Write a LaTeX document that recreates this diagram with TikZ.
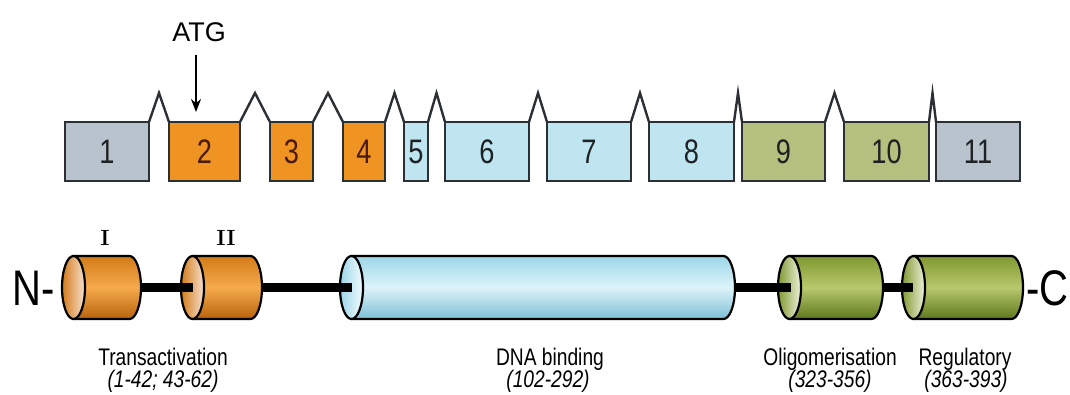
\documentclass[tikz,border=0pt]{standalone}
\usepackage{fontspec}
\usetikzlibrary{arrows.meta,calc}
\newfontfamily\sfc{Liberation Sans}[FakeStretch=0.8]
\newfontfamily\sfn{Liberation Sans}
\definecolor{exline}{HTML}{2A3034}
\definecolor{cgrey}{HTML}{B8C3CE}
\definecolor{corange}{HTML}{EF9322}
\definecolor{cblue}{HTML}{BFE5F1}
\definecolor{cgreen}{HTML}{B5BF7E}
\definecolor{numdark}{HTML}{1E2224}
\definecolor{numbrown}{HTML}{4A1A05}
\definecolor{oTop}{HTML}{D27A18}
\definecolor{oMid}{HTML}{F6AB4C}
\definecolor{oBot}{HTML}{B8620C}
\definecolor{oFace}{HTML}{F8E2D2}
\definecolor{bTop}{HTML}{9CD6E8}
\definecolor{bMid}{HTML}{DDF3FA}
\definecolor{bBot}{HTML}{7CBFD5}
\definecolor{bFace}{HTML}{F2FAFD}
\definecolor{gTop}{HTML}{7F9830}
\definecolor{gMid}{HTML}{B8C86C}
\definecolor{gBot}{HTML}{5E781E}
\definecolor{gFace}{HTML}{EEF2DC}
\newcommand\drawcyl[4]{%
  \path[#3, draw=black, line width=2.2pt, line join=round]
    (#1+11.5,138) -- (#2-11.5,138)
    arc[start angle=90, end angle=-90, x radius=11.5, y radius=31.5]
    -- (#1+11.5,75) -- cycle;
  \path[#4, draw=black, line width=2.2pt]
    (#1+11.5,106.5) ellipse[x radius=11.5, y radius=31.5];
}
\begin{document}
\begin{tikzpicture}[x=1pt,y=1pt,
  exon/.style={draw=exline, line width=2.4pt, minimum height=59pt, inner sep=0pt,
    outer sep=0pt, font=\sfc\fontsize{34}{38}\selectfont, text=numdark},
  intron/.style={draw=exline, line width=2.4pt, line join=miter},
  cylnode/.style={draw=none, inner sep=0pt, outer sep=0pt, minimum height=63pt},
  linker/.style={line width=9.5pt, black},
  lab/.style={font=\sfc\fontsize{24}{28}\selectfont, inner sep=0pt, anchor=base},
  term/.style={font=\sfc\fontsize{50}{56}\selectfont, inner sep=0pt, anchor=base west},
  roman/.style={font=\rmfamily\bfseries\fontsize{22}{24}\selectfont, inner sep=0pt},
  atgarrow/.style={line width=2pt, -{Stealth[length=13pt, width=10pt]}}
]
\useasboundingbox (0,0) rectangle (1070,394);

% exons
\node[exon, fill=cgrey,   minimum width=84pt] (e1)  at (107,242.5)   {1};
\node[exon, fill=corange, minimum width=71pt, text=numbrown] (e2)  at (204.5,242.5) {2};
\node[exon, fill=corange, minimum width=43pt, text=numbrown] (e3)  at (291.5,242.5) {3};
\node[exon, fill=corange, minimum width=42pt, text=numbrown] (e4)  at (364,242.5)   {4};
\node[exon, fill=cblue,   minimum width=24pt] (e5)  at (416,242.5)   {5};
\node[exon, fill=cblue,   minimum width=84pt] (e6)  at (487,242.5)   {6};
\node[exon, fill=cblue,   minimum width=84pt] (e7)  at (589,242.5)   {7};
\node[exon, fill=cblue,   minimum width=85pt] (e8)  at (691.5,242.5) {8};
\node[exon, fill=cgreen,  minimum width=83pt] (e9)  at (783.5,242.5) {9};
\node[exon, fill=cgreen,  minimum width=85pt] (e10) at (886.5,242.5) {10};
\node[exon, fill=cgrey,   minimum width=84pt] (e11) at (978,242.5)   {11};

\foreach \a/\b in {e1/e2,e2/e3,e3/e4,e4/e5,e5/e6,e6/e7,e7/e8,e8/e9,e9/e10,e10/e11}
  \draw[intron] (\a.north east) -- ($(\a.north east)!.5!(\b.north west)+(0,29)$) -- (\b.north west);

% ATG
\node[font=\sfn\fontsize{27}{30}\selectfont, inner sep=0pt, anchor=base] (atg) at (199,352) {ATG};
\coordinate (atgstart) at (196,339);
\coordinate (atgtip) at (196,282);
\draw[atgarrow] (atgstart) -- (atgtip);

% protein domains
\node[cylnode, minimum width=79pt]  (cI)  at (101.5,106.5) {};
\node[cylnode, minimum width=81pt]  (cII) at (221.5,106.5) {};
\node[cylnode, minimum width=395pt] (cD)  at (537.5,106.5) {};
\node[cylnode, minimum width=105pt] (cO)  at (830.5,106.5) {};
\node[cylnode, minimum width=121pt] (cR)  at (962.5,106.5) {};

\drawcyl{62}{141}{top color=oTop, bottom color=oBot, middle color=oMid}{left color=oTop, right color=oFace}
\drawcyl{181}{262}{top color=oTop, bottom color=oBot, middle color=oMid}{left color=oTop, right color=oFace}
\drawcyl{340}{735}{top color=bTop, bottom color=bBot, middle color=bMid}{left color=bTop, right color=bFace}
\drawcyl{778}{883}{top color=gTop, bottom color=gBot, middle color=gMid}{left color=gTop, right color=gFace}
\drawcyl{902}{1023}{top color=gTop, bottom color=gBot, middle color=gMid}{left color=gTop, right color=gFace}

\draw[linker] (cI.east)  -- ([xshift=12pt]cII.west);
\draw[linker] (cII.east) -- ([xshift=12pt]cD.west);
\draw[linker] (cD.east)  -- ([xshift=13pt]cO.west);
\draw[linker] (cO.east)  -- ([xshift=11pt]cR.west);

\node[term] (nterm) at (12,89) {N-};
\node[term] (cterm) at (1026,89) {-C};

\node[roman] (rI)  at (105,156) {I};
\node[roman] (rII) at (226,156) {II};

\node[lab] (ta)  at (163,29) {Transactivation};
\node[lab] (tar) at (163,7)  {\itshape (1-42; 43-62)};
\node[lab] (db)  at (550,29) {DNA binding};
\node[lab] (dbr) at (548,7)  {\itshape (102-292)};
\node[lab] (ol)  at (830,29) {Oligomerisation};
\node[lab] (olr) at (830,7)  {\itshape (323-356)};
\node[lab] (rg)  at (965,29) {Regulatory};
\node[lab] (rgr) at (966,7)  {\itshape (363-393)};
\end{tikzpicture}
\end{document}
